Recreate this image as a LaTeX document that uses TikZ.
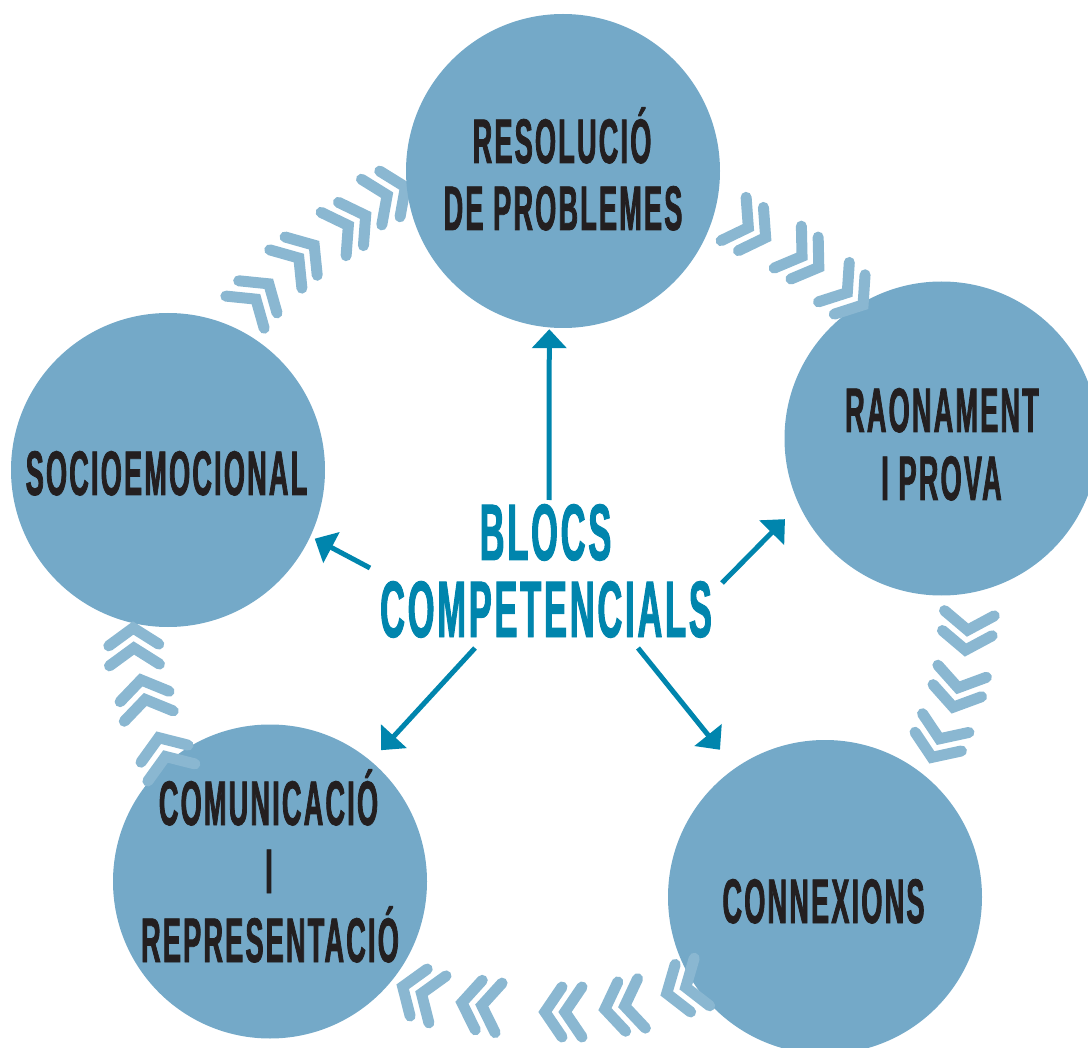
\documentclass[tikz,border=0pt]{standalone}
\usepackage{fontspec}
\newfontfamily\cond[FakeStretch=0.43,FakeBold=1.2,LetterSpace=3.5]{Liberation Sans Bold}
\usetikzlibrary{arrows.meta}
\definecolor{discfill}{HTML}{74A9C8}
\definecolor{chevc}{HTML}{8AB7D1}
\definecolor{arrowc}{HTML}{0085AD}
\definecolor{ink}{HTML}{231F20}
\tikzset{
  disc/.style={circle, fill=discfill, minimum size=314pt, inner sep=0pt},
  chevline/.style={draw=chevc, line width=11pt, line cap=round, line join=miter},
  dchev/.pic={
    \draw[chevline] (-22,-25) -- (-5,0) -- (-22,25);
    \draw[chevline] (-42,-25) -- (-25,0) -- (-42,25);
  },
  lab/.style={font=\cond\fontsize{63}{63}\selectfont, text=ink, anchor=base, inner sep=0pt},
  big/.style={font=\cond\fontsize{80}{80}\selectfont, text=arrowc, anchor=base, inner sep=0pt},
  arr/.style={draw=arrowc, line width=5pt, -{Triangle[width=34pt,length=19pt]}},
}
\begin{document}
\begin{tikzpicture}[x=1pt,y=-1pt]
\useasboundingbox (0,0) rectangle (1088,1048);
\clip (0,0) rectangle (1088,1048);
% chevron partly hidden by the top circle
\pic[rotate=24] at (410,185) {dchev};
% circles
\node[disc] (top)   at (563,171) {};
\node[disc] (right) at (941.5,438.5) {};
\node[disc] (left)  at (168,470) {};
\node[disc] (bl)    at (270,881.5) {};
\node[disc] (br)    at (825,897) {};
% chevrons: left -> top
\pic[rotate=50] at (272,280) {dchev};
\pic[rotate=40] at (318,242) {dchev};
\pic[rotate=30] at (370,213) {dchev};
% top -> right
\pic[rotate=-30] at (770,240) {dchev};
\pic[rotate=-33] at (823,270) {dchev};
\pic[rotate=-38] at (867,308) {dchev};
% right -> bottom right
\pic[rotate=-96] at (965,655) {dchev};
\pic[rotate=-104] at (952,712) {dchev};
\pic[rotate=-112] at (930,762) {dchev};
% bottom right -> bottom left
\pic[rotate=198] at (662,995) {dchev};
\pic[rotate=189] at (600,1010) {dchev};
\pic[rotate=180] at (540,1012) {dchev};
\pic[rotate=172] at (457,1002) {dchev};
\pic[rotate=160] at (398,985) {dchev};
% bottom left -> left
\pic[rotate=110] at (157,733) {dchev};
\pic[rotate=102] at (140,675) {dchev};
\pic[rotate=92] at (133,623) {dchev};
% texts
\node[lab] (t1) at (562,163) {RESOLUCIÓ};
\node[lab] (t2) at (563,230) {DE PROBLEMES};
\node[lab] (t3) at (166.5,495) {SOCIOEMOCIONAL};
\node[lab] (t4) at (942,432) {RAONAMENT};
\node[lab] (t5) at (941.5,500) {I PROVA};
\node[lab] (t6) at (823.5,923) {CONNEXIONS};
\node[lab] (t7) at (268.5,825) {COMUNICACIÓ};
\node[lab] (t8) at (269,893) {I};
\node[lab] (t9) at (270,962) {REPRESENTACIÓ};
\node[big] (b1) at (545.5,560) {BLOCS};
\node[big] (b2) at (546,637) {COMPETENCIALS};
% arrows
\coordinate (s1) at (549,500);
\coordinate (s2) at (370,568);
\coordinate (s3) at (722,583);
\coordinate (s4) at (475,648);
\coordinate (s5) at (638,648);
\draw[arr, shorten >=1.6pt] (s1) -- (top.-95);
\draw[arr, shorten >=4.8pt] (s2) -- (left.-25.4);
\draw[arr, shorten >=20pt] (s3) -- (right.205);
\draw[arr, shorten >=14.8pt] (s4) -- (bl.50.5);
\draw[arr, shorten >=23.7pt] (s5) -- (br.125.1);
\end{tikzpicture}
\end{document}
